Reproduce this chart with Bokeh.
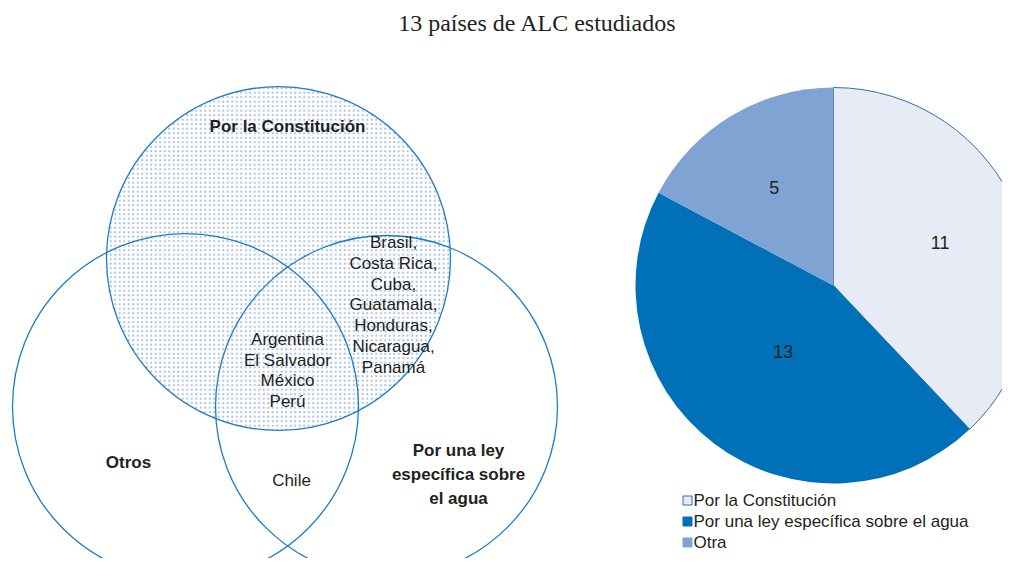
import math
from bokeh.plotting import figure
from bokeh.models import Range1d
from bokeh.core.properties import value
from bokeh.embed import file_html
from bokeh.resources import INLINE

# ---- data ----
title_text = "13 países de ALC estudiados"
pie_categories = ["Por la Constitución", "Por una ley específica sobre el agua", "Otra"]
pie_values = [11, 13, 5]
pie_colors = ["#E6EBF6", "#0070B8", "#7FA3D3"]

venn_sets = ["Por la Constitución", "Otros", "Por una ley\nespecífica sobre\nel agua"]
only_constitution = ["Brasil,", "Costa Rica,", "Cuba,", "Guatamala,", "Honduras,", "Nicaragua,", "Panamá"]
constitution_and_law = ["Argentina", "El Salvador", "México", "Perú"]
law_and_other = ["Chile"]

# ---- layout (pixel coords of page; y measured downward, stored negated) ----
W, H = 1002, 558
p = figure(width=W, height=H, output_backend="svg", toolbar_location=None,
           x_range=Range1d(0, W), y_range=Range1d(-H, 0),
           min_border=0, outline_line_color=None)
p.axis.visible = False
p.grid.visible = False

FONT = value("Liberation Sans")
LINE = "#1F7BC3"
TXT = "#231F20"

# Venn circles: (cx, cy, r)
top_c = (278, 258, 172)
left_c = (185, 406, 173)
right_c = (386, 406, 171)

p.circle(x=[top_c[0]], y=[-top_c[1]], radius=top_c[2], fill_color=None,
         line_color=None, hatch_pattern="dot", hatch_color="#A9C0E2",
         hatch_scale=4.5, hatch_weight=1.0)
for (cx, cy, r) in (top_c, left_c, right_c):
    p.circle(x=[cx], y=[-cy], radius=r, fill_color=None, line_color=LINE, line_width=1.3)

# Venn labels
p.text(x=[287], y=[-126], text=[venn_sets[0]], text_font=FONT, text_font_size="17px",
       text_font_style="bold", text_align="center", text_baseline="middle", text_color=TXT)
p.text(x=[128], y=[-462], text=[venn_sets[1]], text_font=FONT, text_font_size="17px",
       text_font_style="bold", text_align="center", text_baseline="middle", text_color=TXT)
p.text(x=[458], y=[-474], text=[venn_sets[2]], text_font=FONT, text_font_size="17px",
       text_font_style="bold", text_align="center", text_baseline="middle",
       text_line_height=1.25, text_color=TXT)

p.text(x=[393] * len(only_constitution),
       y=[-(242 + 20.8 * i) for i in range(len(only_constitution))],
       text=only_constitution, text_font=FONT, text_font_size="17px",
       text_align="center", text_baseline="middle", text_color=TXT)
p.text(x=[287] * len(constitution_and_law),
       y=[-(339 + 20.7 * i) for i in range(len(constitution_and_law))],
       text=constitution_and_law, text_font=FONT, text_font_size="17px",
       text_align="center", text_baseline="middle", text_color=TXT)
p.text(x=[291], y=[-480], text=law_and_other, text_font=FONT, text_font_size="17px",
       text_align="center", text_baseline="middle", text_color=TXT)

# Title
p.text(x=[537], y=[-22], text=[title_text], text_font=value("Liberation Serif"),
       text_font_size="24px", text_align="center", text_baseline="middle", text_color=TXT)

# Pie
pcx, pcy, pr = 833, 285, 198
total = sum(pie_values)
start = math.pi / 2
starts, ends, mids = [], [], []
for v in pie_values:
    a = 2 * math.pi * v / total
    s, e = start - a, start
    starts.append(s); ends.append(e); mids.append((s + e) / 2)
    start = s
p.wedge(x=[pcx] * 3, y=[-pcy] * 3, radius=pr, start_angle=starts, end_angle=ends,
        fill_color=pie_colors, line_color=["#2F6FA8", None, None], line_width=1)
lr = [0.58, 0.42, 0.58]
lab_x = [pcx + lr[i] * pr * math.cos(mids[i]) for i in range(3)]
lab_y = [-pcy + lr[i] * pr * math.sin(mids[i]) for i in range(3)]
p.text(x=lab_x, y=lab_y, text=[str(v) for v in pie_values], text_font=FONT,
       text_font_size="18px", text_align="center", text_baseline="middle", text_color=TXT)

# Legend
ly = [-(500 + 21 * i) for i in range(3)]
p.scatter(x=[687] * 3, y=ly, marker="square", size=9, fill_color=pie_colors,
          line_color=["#2F6FA8", pie_colors[1], pie_colors[2]], line_width=1)
p.text(x=[693] * 3, y=ly, text=pie_categories, text_font=FONT, text_font_size="17px",
       text_align="left", text_baseline="middle", text_color=TXT)

open("out.html", "w").write(file_html(p, INLINE))
